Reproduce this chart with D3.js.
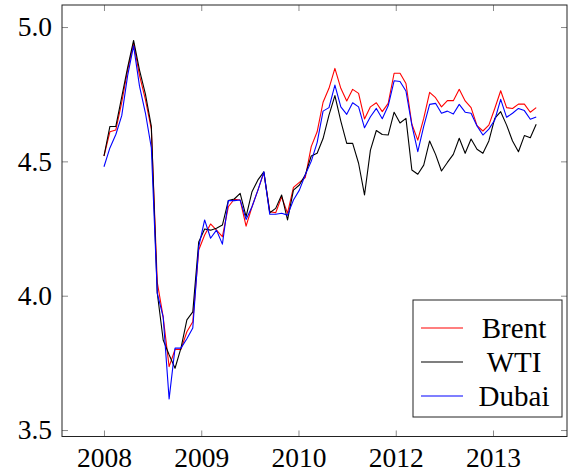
<!DOCTYPE html>
<html>
<head>
<meta charset="utf-8">
<script src="https://cdn.jsdelivr.net/npm/d3@7"></script>
<style>
  body { margin: 0; background: #fff; }
  text { font-family: "Liberation Serif", "DejaVu Serif", serif; }
</style>
</head>
<body>
<div id="chart"></div>
<script>
// log prices, monthly from Jan 2008
const brent = [4.52, 4.61, 4.617, 4.72, 4.84, 4.94, 4.82, 4.73, 4.62, 4.05,
  3.92, 3.736, 3.80, 3.80, 3.866, 3.903, 4.17, 4.226, 4.267, 4.244,
  4.220, 4.331, 4.359, 4.356, 4.259, 4.331, 4.393, 4.458, 4.313, 4.309,
  4.368, 4.307, 4.403, 4.422, 4.44, 4.555, 4.61, 4.72, 4.772, 4.846,
  4.772, 4.725, 4.768, 4.753, 4.658, 4.703, 4.718, 4.685, 4.716, 4.828,
  4.828, 4.79, 4.638, 4.579, 4.66, 4.757, 4.737, 4.703, 4.726, 4.726,
  4.768, 4.725, 4.70, 4.633, 4.613, 4.635, 4.697, 4.763, 4.70, 4.697,
  4.713, 4.713, 4.683, 4.70]
const wti = [4.52, 4.63, 4.63, 4.74, 4.85, 4.95, 4.84, 4.75, 4.63, 4.01,
  3.835, 3.78, 3.73, 3.805, 3.91, 3.94, 4.20, 4.248, 4.244, 4.251,
  4.263, 4.354, 4.36, 4.381, 4.294, 4.387, 4.431, 4.461, 4.309, 4.325,
  4.375, 4.282, 4.393, 4.412, 4.45, 4.52, 4.53, 4.585, 4.672, 4.745,
  4.65, 4.567, 4.567, 4.493, 4.375, 4.542, 4.615, 4.60, 4.598, 4.683,
  4.643, 4.66, 4.468, 4.452, 4.486, 4.576, 4.526, 4.464, 4.496, 4.526,
  4.586, 4.530, 4.583, 4.545, 4.530, 4.576, 4.660, 4.685, 4.635, 4.576,
  4.536, 4.596, 4.588, 4.638]
const dubai = [4.48, 4.55, 4.60, 4.67, 4.82, 4.93, 4.78, 4.68, 4.55, 4.01,
  3.92, 3.616, 3.805, 3.805, 3.84, 3.88, 4.182, 4.282, 4.214, 4.244,
  4.192, 4.354, 4.354, 4.356, 4.284, 4.331, 4.393, 4.461, 4.303, 4.303,
  4.307, 4.300, 4.356, 4.393, 4.45, 4.50, 4.57, 4.687, 4.70, 4.784,
  4.703, 4.675, 4.718, 4.703, 4.625, 4.666, 4.697, 4.659, 4.707, 4.80,
  4.797, 4.762, 4.635, 4.536, 4.63, 4.712, 4.716, 4.679, 4.687, 4.676,
  4.712, 4.683, 4.679, 4.632, 4.598, 4.62, 4.654, 4.731, 4.664, 4.679,
  4.697, 4.689, 4.657, 4.665]

// ticks every 500 days (in months since Jan 2008), labelled by year
const xTickPos = [0, 16.43, 32.85, 49.28, 65.7]
const xTickLabels = ["2008", "2009", "2010", "2012", "2013"]
const yTicks = [3.5, 4.0, 4.5, 5.0]
const names = ["Brent", "WTI", "Dubai"]
const colors = ["#ff0000", "#000000", "#0000ff"]
const series = [brent, wti, dubai]

const width = 570, height = 472
const plotL = 62, plotR = 567, plotT = 5, plotB = 436.5

const svg = d3.select("#chart")
  .append("svg")
  .attr("width", width)
  .attr("height", height)

const x = d3.scaleLinear().domain([-7.09, 78.2]).range([plotL, plotR])
const y = d3.scaleLinear().domain([3.476, 5.082]).range([plotB, plotT])

// axes, ticks pointing inward
const fontSize = 27.5
svg.append("g")
  .attr("transform", `translate(0,${plotB})`)
  .call(d3.axisBottom(x).tickValues(xTickPos).tickFormat((d, i) => xTickLabels[i])
    .tickSize(-6).tickPadding(11))
svg.append("g")
  .attr("transform", `translate(0,${plotT})`)
  .call(d3.axisTop(x).tickValues(xTickPos).tickFormat("").tickSize(-6))
svg.append("g")
  .attr("transform", `translate(${plotL},0)`)
  .call(d3.axisLeft(y).tickValues(yTicks).tickFormat(d3.format(".1f"))
    .tickSize(-6).tickPadding(10))
svg.append("g")
  .attr("transform", `translate(${plotR},0)`)
  .call(d3.axisRight(y).tickValues(yTicks).tickFormat("").tickSize(-6))

svg.selectAll(".domain").remove()
svg.selectAll(".tick line").attr("stroke", "#8a8a8a").attr("stroke-width", 1)
svg.selectAll(".tick text")
  .attr("font-size", fontSize)
  .attr("font-family", "Liberation Serif, serif")
  .attr("fill", "#000")

// lines
const line = d3.line()
  .x((d, i) => x(i))
  .y(d => y(d))

svg.selectAll("path.serie")
  .data(series)
  .enter()
  .append("path")
  .attr("class", "serie")
  .attr("d", d => line(d))
  .attr("fill", "none")
  .attr("stroke", (d, i) => colors[i])
  .attr("stroke-width", 1.1)
  .attr("stroke-linejoin", "round")

// frame
svg.append("rect")
  .attr("x", plotL)
  .attr("y", plotT)
  .attr("width", plotR - plotL)
  .attr("height", plotB - plotT)
  .attr("fill", "none")
  .attr("stroke", "#222")
  .attr("stroke-width", 1)

// legend
const legend = svg.append("g").attr("transform", "translate(413,300)")
legend.append("rect")
  .attr("width", 149)
  .attr("height", 117)
  .attr("fill", "#fff")
  .attr("stroke", "#222")
  .attr("stroke-width", 1)
const rows = legend.selectAll("g.row")
  .data(names)
  .enter()
  .append("g")
  .attr("class", "row")
  .attr("transform", (d, i) => `translate(0,${28 + i * 34})`)
rows.append("line")
  .attr("x1", 8).attr("x2", 50)
  .attr("stroke", (d, i) => colors[i])
  .attr("stroke-width", 1.1)
rows.append("text")
  .text(d => d)
  .attr("x", 101)
  .attr("dy", "0.33em")
  .attr("text-anchor", "middle")
  .attr("font-size", 29)
</script>
</body>
</html>
